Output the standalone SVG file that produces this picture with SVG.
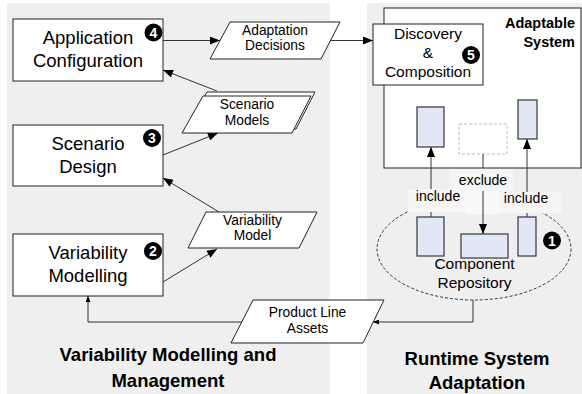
<svg xmlns="http://www.w3.org/2000/svg" width="582" height="394" viewBox="0 0 582 394">
<style>
text{font-family:"Liberation Sans",Arial,sans-serif;fill:#000}
.box{fill:#fff;stroke:#222;stroke-width:1}
.big{font-size:18.5px;text-anchor:middle}
.mid{font-size:15.5px;text-anchor:middle}
.par{font-size:13.8px;text-anchor:middle}
.title{font-size:18.5px;font-weight:bold;text-anchor:middle}
.badge circle{fill:#000}
.badge text{fill:#fff;font-size:14px;font-weight:bold;text-anchor:middle}
.comp{fill:#e1e7f5;stroke:#444;stroke-width:1.3}
.conn{fill:none;stroke:#333;stroke-width:1}
.lbl{fill:#f5f5f5}
.lt{font-size:14px;text-anchor:middle}
</style>
<defs>
<marker id="arr" viewBox="0 0 10 8" refX="10" refY="4" markerWidth="11" markerHeight="8" orient="auto" markerUnits="userSpaceOnUse"><path d="M0,0 L10,4 L0,8 z" fill="#000"/></marker>
<marker id="sarr" viewBox="0 0 6 5" refX="6" refY="2.5" markerWidth="6" markerHeight="5" orient="auto" markerUnits="userSpaceOnUse"><path d="M0,0 L6,2.5 L0,5 z" fill="#000"/></marker>
</defs>
<rect width="582" height="394" fill="#fff"/>
<rect id="panel-left" x="7" y="3" width="323" height="391" fill="#efefef"/>
<rect id="panel-right" x="367" y="3" width="215" height="391" fill="#efefef"/>

<g id="adaptable-system">
<rect x="384" y="8" width="197" height="160" class="box"/>
<text x="575" y="28" style="font-size:14.5px;font-weight:bold;text-anchor:end">Adaptable</text>
<text x="575" y="47" style="font-size:14.5px;font-weight:bold;text-anchor:end">System</text>
<rect x="417" y="107" width="27" height="40" class="comp"/>
<rect x="459" y="124" width="48" height="30" fill="#fff" stroke="#bbb" stroke-dasharray="3,2"/>
<rect x="518" y="100" width="19" height="39" class="comp"/>
</g>

<g id="component-repository">
<ellipse cx="474" cy="249" rx="97" ry="51" fill="none" stroke="#333" stroke-dasharray="3,2"/>
<rect x="417" y="217" width="27" height="39" class="comp"/>
<rect x="461" y="234" width="47" height="24" class="comp"/>
<rect x="518" y="217" width="18" height="39" class="comp"/>
<text x="474.5" y="269" class="mid">Component</text>
<text x="474.5" y="288" class="mid">Repository</text>
</g>

<g id="connectors">
<line x1="163" y1="40.5" x2="220" y2="40.5" class="conn" marker-end="url(#arr)"/>
<line x1="330" y1="40.5" x2="373" y2="40.5" class="conn" marker-end="url(#arr)"/>
<line x1="217" y1="91" x2="163" y2="70" class="conn" marker-end="url(#arr)"/>
<line x1="163" y1="155" x2="218" y2="133" class="conn" marker-end="url(#arr)"/>
<line x1="219" y1="212" x2="163" y2="178" class="conn" marker-end="url(#arr)"/>
<line x1="163" y1="282" x2="217" y2="249" class="conn" marker-end="url(#arr)"/>
<polyline points="242,322 88,322 88,296" class="conn" stroke="#555" marker-end="url(#sarr)"/>
<polyline points="473,300 473,322 373,322" class="conn" stroke="#555" marker-end="url(#sarr)"/>
<rect x="408" y="189" width="57" height="23" class="lbl"/>
<rect x="500" y="192" width="62" height="21" class="lbl"/>
<rect x="450" y="169" width="63" height="22" class="lbl"/>
<rect x="465" y="191" width="35" height="23" fill="#f9f9f9"/>
<line x1="431" y1="217" x2="431" y2="212" class="conn"/>
<line x1="431" y1="189" x2="431" y2="147" class="conn" marker-end="url(#arr)"/>
<line x1="483" y1="154" x2="483" y2="168" class="conn"/>
<line x1="483" y1="191" x2="483" y2="234" class="conn" marker-end="url(#arr)"/>
<line x1="527" y1="217" x2="527" y2="213" class="conn"/>
<line x1="527" y1="192" x2="527" y2="139" class="conn" marker-end="url(#arr)"/>
<text x="438" y="201" class="lt">include</text>
<text x="526" y="203" class="lt">include</text>
<text x="483" y="185" class="lt">exclude</text>
</g>

<g id="application-configuration">
<rect x="13" y="19" width="150" height="62" class="box"/>
<text x="88" y="44" class="big">Application</text>
<text x="88" y="67" class="big">Configuration</text>
<g class="badge"><circle cx="153.5" cy="32.5" r="9"/><text x="153.5" y="37.5">4</text></g>
</g>

<g id="scenario-design">
<rect x="13" y="125" width="150" height="61" class="box"/>
<text x="88" y="149.5" class="big">Scenario</text>
<text x="88" y="172.5" class="big">Design</text>
<g class="badge"><circle cx="152" cy="138" r="9"/><text x="152" y="143">3</text></g>
</g>

<g id="variability-modelling">
<rect x="13" y="234" width="150" height="62" class="box"/>
<text x="88" y="259" class="big">Variability</text>
<text x="88" y="282" class="big">Modelling</text>
<g class="badge"><circle cx="153" cy="251" r="9"/><text x="153" y="256">2</text></g>
</g>

<g id="discovery-composition">
<rect x="373" y="24" width="110" height="61" class="box"/>
<text x="428" y="39" class="mid">Discovery</text>
<text x="428" y="58" class="mid">&amp;</text>
<text x="428" y="77" class="mid">Composition</text>
<g class="badge"><circle cx="471" cy="55" r="9"/><text x="471" y="60">5</text></g>
</g>

<g id="adaptation-decisions">
<polygon points="230,22 340,22 321,59 210,59" class="box"/>
<text x="275" y="35" class="par">Adaptation</text>
<text x="275" y="50" class="par">Decisions</text>
</g>

<g id="scenario-models">
<polygon points="207,92 315,92 296,129 186,129" class="box"/>
<polygon points="203,96 311,96 292,133 182,133" class="box"/>
<text x="247" y="109" class="par">Scenario</text>
<text x="247" y="125" class="par">Models</text>
</g>

<g id="variability-model">
<polygon points="206,212 317,212 299,248 188,248" class="box"/>
<text x="252.5" y="225" class="par">Variability</text>
<text x="252.5" y="240" class="par">Model</text>
</g>

<g id="product-line-assets">
<polygon points="253,300 384,300 363,343 231,343" class="box"/>
<text x="307.5" y="317" class="par">Product Line</text>
<text x="307.5" y="333" class="par">Assets</text>
</g>

<g id="repo-badge" class="badge"><circle cx="552" cy="240.5" r="9"/><text x="552" y="245.5">1</text></g>

<text x="168" y="361" class="title">Variability Modelling and</text>
<text x="168" y="387" class="title">Management</text>
<text x="477" y="365" class="title">Runtime System</text>
<text x="477" y="389" class="title">Adaptation</text>
</svg>
